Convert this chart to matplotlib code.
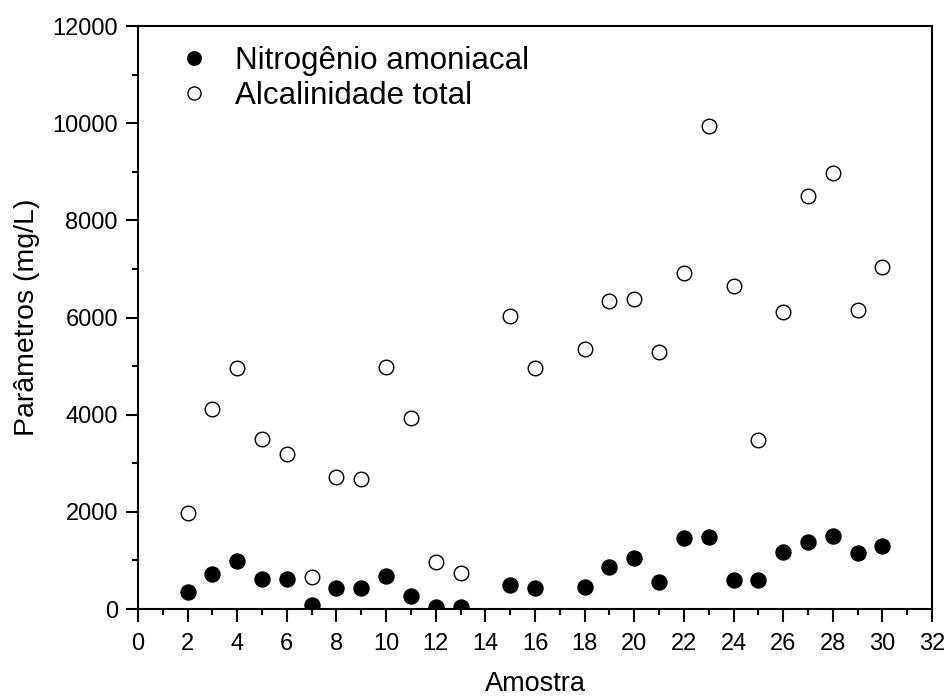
import matplotlib.pyplot as plt
from matplotlib.ticker import MultipleLocator

plt.rcParams['font.family'] = ['Liberation Sans', 'DejaVu Sans']

# Amostras
amostra_n = [2, 3, 4, 5, 6, 7, 8, 9, 10, 11, 12, 13, 15, 16, 18, 19, 20,
             21, 22, 23, 24, 25, 26, 27, 28, 29, 30]
nitrogenio = [344, 720, 981, 611, 611, 82, 426, 426, 685, 261, 35, 35, 488,
              432, 453, 864, 1056, 556, 1455, 1488, 597, 597, 1173, 1379,
              1509, 1159, 1303]

amostra_a = [2, 3, 4, 5, 6, 7, 8, 9, 10, 11, 12, 13, 15, 16, 18, 19, 20,
             21, 22, 23, 24, 25, 26, 27, 28, 29, 30]
alcalinidade = [1976, 4116, 4960, 3500, 3190, 665, 2717, 2675, 4980, 3930,
                973, 735, 6030, 4960, 5350, 6340, 6380, 5290, 6915, 9940,
                6650, 3478, 6112, 8500, 8973, 6153, 7040]

fig = plt.figure(figsize=(9.47, 6.96), dpi=100)
ax = fig.add_axes([0.1457, 0.125, 0.9842 - 0.1457, 0.9626 - 0.125])

ax.plot(amostra_n, nitrogenio, 'o', color='black', markersize=10.8,
        label='Nitrogênio amoniacal')
ax.plot(amostra_a, alcalinidade, 'o', markerfacecolor='white',
        markeredgecolor='black', markeredgewidth=1.0, markersize=10.5,
        label='Alcalinidade total')

ax.set_xlim(0, 32)
ax.set_ylim(0, 12000)
ax.xaxis.set_major_locator(MultipleLocator(2))
ax.xaxis.set_minor_locator(MultipleLocator(1))
ax.yaxis.set_major_locator(MultipleLocator(2000))
ax.yaxis.set_minor_locator(MultipleLocator(1000))

ax.tick_params(which='both', direction='out', top=False, right=False,
               width=1.5, labelsize=17)
ax.tick_params(which='major', length=9)
ax.tick_params(which='minor', length=4.5)
ax.tick_params(axis='x', which='major', pad=8)
ax.tick_params(axis='y', which='major', pad=5.4)
for s in ax.spines.values():
    s.set_linewidth(1.5)

ax.set_xlabel('Amostra', fontsize=19.5, labelpad=12)
ax.set_ylabel('Parâmetros (mg/L)', fontsize=20.5, labelpad=9)

ax.legend(loc='upper left', frameon=False, fontsize=22.5, markerscale=0.9,
          handlelength=1.2, handletextpad=0.72, labelspacing=0.17,
          borderaxespad=0.0, bbox_to_anchor=(0.031, 0.988))

fig.savefig('out.png', dpi=100)
